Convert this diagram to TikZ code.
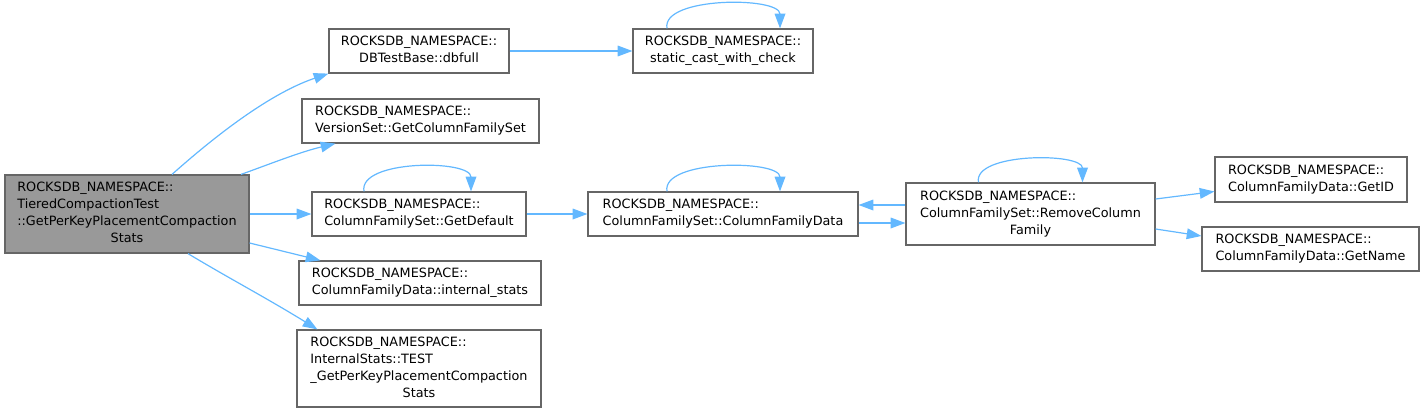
\documentclass[tikz,border=0pt]{standalone}
\usepackage{fontspec}
\setmainfont{DejaVu Sans}
\usetikzlibrary{arrows.meta,calc}
\definecolor{edgeblue}{HTML}{63B8FF}
\definecolor{nodeborder}{HTML}{666666}
\definecolor{mainfill}{HTML}{999999}
\newcommand{\lbl}[2]{\begin{tabular}{@{}l@{}}#1\\\multicolumn{1}{@{}c@{}}{#2}\end{tabular}}
\tikzset{
  box/.style={draw=nodeborder, line width=0.9pt, fill=white, inner sep=0pt,
    font=\fontsize{9.6}{12.75}\selectfont, text=black},
  mainbox/.style={box, fill=mainfill},
  sz/.style 2 args={minimum width=#1*0.75pt, minimum height=#2*0.75pt},
  edge/.style={draw=edgeblue, line width=0.9pt,
    -{Triangle[length=11pt,width=8pt]}}
}
\begin{document}
\begin{tikzpicture}[x=0.75pt,y=-0.75pt]
\useasboundingbox (0,0) rectangle (1424,414);
% nodes
\node[mainbox, sz={244}{78}] (main) at (127,214)
  {\lbl{ROCKSDB\_NAMESPACE::\\TieredCompactionTest\\::GetPerKeyPlacementCompaction}{Stats}};
\node[box, sz={180}{44}] (dbfull) at (419,51)
  {\lbl{ROCKSDB\_NAMESPACE::}{DBTestBase::dbfull}};
\node[box, sz={237}{44}] (gcfs) at (420.5,121)
  {\lbl{ROCKSDB\_NAMESPACE::}{VersionSet::GetColumnFamilySet}};
\node[box, sz={214}{44}] (getdef) at (419,214)
  {\lbl{ROCKSDB\_NAMESPACE::}{ColumnFamilySet::GetDefault}};
\node[box, sz={242}{44}] (istats) at (420,283)
  {\lbl{ROCKSDB\_NAMESPACE::}{ColumnFamilyData::internal\_stats}};
\node[box, sz={244}{77}] (test) at (419,368.5)
  {\lbl{ROCKSDB\_NAMESPACE::\\InternalStats::TEST\\\_GetPerKeyPlacementCompaction}{Stats}};
\node[box, sz={180}{44}] (scast) at (723,51)
  {\lbl{ROCKSDB\_NAMESPACE::}{static\_cast\_with\_check}};
\node[box, sz={270}{44}] (cfd) at (723,214)
  {\lbl{ROCKSDB\_NAMESPACE::}{ColumnFamilySet::ColumnFamilyData}};
\node[box, sz={249}{62}] (rcf) at (1030.5,214)
  {\lbl{ROCKSDB\_NAMESPACE::\\ColumnFamilySet::RemoveColumn}{Family}};
\node[box, sz={192}{45}] (getid) at (1311,179.5)
  {\lbl{ROCKSDB\_NAMESPACE::}{ColumnFamilyData::GetID}};
\node[box, sz={217}{44}] (getname) at (1310.5,249)
  {\lbl{ROCKSDB\_NAMESPACE::}{ColumnFamilyData::GetName}};
% edges
\draw[edge] ($(main.north)+(45,0)$) .. controls (205,145) and (265,95) .. (dbfull.south west);
\draw[edge] ($(main.north)+(114,0)$) .. controls (270,164) and (300,152) .. ($(gcfs.south west)+(34,0)$);
\draw[edge] (main.east) -- (getdef.west);
\draw[edge] ($(main.east)+(0,29)$) -- ($(istats.north west)+(22,0)$);
\draw[edge] ($(main.south)+(61,0)$) .. controls (225,276) and (270,300) .. ($(test.north west)+(21,0)$);
\draw[edge] (dbfull.east) -- (scast.west);
\draw[edge] ($(scast.north)+(-56,0)$) .. controls +(-6,-32) and +(0,-32) .. ($(scast.north)+(57,0)$);
\draw[edge] ($(getdef.north)+(-55,0)$) .. controls +(-6,-32) and +(0,-32) .. ($(getdef.north)+(52,0)$);
\draw[edge] (getdef.east) -- (cfd.west);
\draw[edge] ($(cfd.north)+(-56,0)$) .. controls +(-6,-32) and +(0,-32) .. ($(cfd.north)+(57,0)$);
\draw[edge] ($(cfd.east)+(0,9)$) -- ($(rcf.west)+(0,9)$);
\draw[edge] ($(rcf.west)+(0,-9)$) -- ($(cfd.east)+(0,-9)$);
\draw[edge] ($(rcf.north)+(-52,0)$) .. controls +(-6,-30) and +(0,-30) .. ($(rcf.north)+(52,0)$);
\draw[edge] ($(rcf.east)+(0,-15)$) -- ($(getid.west)+(0,12)$);
\draw[edge] ($(rcf.east)+(0,15)$) -- ($(getname.west)+(0,-13)$);
\end{tikzpicture}
\end{document}
